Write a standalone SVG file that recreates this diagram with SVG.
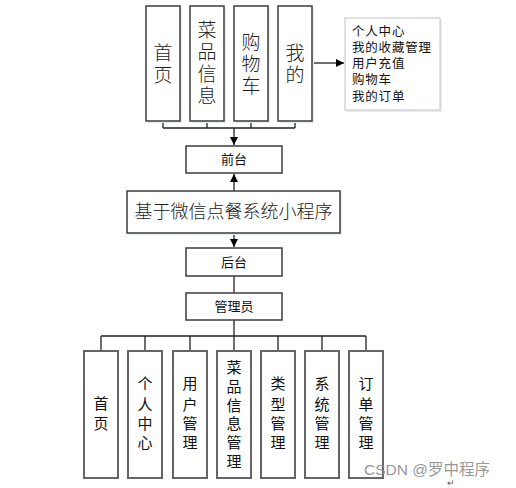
<svg xmlns="http://www.w3.org/2000/svg" width="516" height="488" viewBox="0 0 516 488">
<style>
.box{fill:#fff;stroke:#3c3c3c;stroke-width:1.5}
.bbox{fill:#fff;stroke:#666;stroke-width:2}
.sh{fill:#e6ecf4}
.ln{stroke:#222;stroke-width:1.3;fill:none}
.t{font-family:"Liberation Sans","Noto Sans CJK SC",sans-serif;fill:#111;text-anchor:middle}
.ts{font-family:"Liberation Serif","Noto Sans CJK SC",serif;fill:#222;text-anchor:middle;font-weight:300}
</style>
<defs>
<marker id="ah" viewBox="0 0 10 10" refX="10" refY="5" markerWidth="8" markerHeight="8" markerUnits="userSpaceOnUse" orient="auto"><path d="M0,0L10,5L0,10z" fill="#000"/></marker>
</defs>
<rect width="516" height="488" fill="#fff"/>
<g id="connectors">
<path class="ln" d="M163,121V128M207,121V128M251,121V128M295,121V128M163,128H295"/>
<path class="ln" d="M234,128V145" marker-end="url(#ah)"/>
<path class="ln" d="M313,63H344" marker-end="url(#ah)"/>
<path class="ln" d="M234,191V174" marker-end="url(#ah)"/>
<path class="ln" d="M234,233V247" marker-end="url(#ah)"/>
<path class="ln" d="M234,276V293"/>
<path class="ln" d="M234,320V336M101,336H366M101,336V351M145,336V351M190,336V351M234,336V351M278,336V351M322,336V351M366,336V351"/>
</g>
<g id="top1"><rect class="sh" x="148" y="8" width="34" height="115"/><rect class="box" x="146" y="6" width="34" height="115"/><text class="ts" font-size="19" x="163"><tspan x="163" y="60">首</tspan><tspan x="163" y="82">页</tspan></text></g>
<g id="top2"><rect class="sh" x="192" y="8" width="34" height="115"/><rect class="box" x="190" y="6" width="34" height="115"/><text class="ts" font-size="19" x="207"><tspan x="207" y="37">菜</tspan><tspan x="207" y="59">品</tspan><tspan x="207" y="81">信</tspan><tspan x="207" y="103">息</tspan></text></g>
<g id="top3"><rect class="sh" x="236" y="8" width="34" height="115"/><rect class="box" x="234" y="6" width="34" height="115"/><text class="ts" font-size="19"><tspan x="251" y="49">购</tspan><tspan x="251" y="71">物</tspan><tspan x="251" y="93">车</tspan></text></g>
<g id="top4"><rect class="sh" x="280" y="8" width="34" height="115"/><rect class="box" x="278" y="6" width="34" height="115"/><text class="ts" font-size="19"><tspan x="295" y="60">我</tspan><tspan x="295" y="82">的</tspan></text></g>
<g id="list"><rect class="sh" x="347" y="20" width="95" height="92"/><rect x="345" y="18" width="95" height="92" fill="#fff" stroke="#c4c4c4" stroke-width="1"/>
<text font-family="Liberation Sans,'Noto Sans CJK SC',sans-serif" font-size="12.5" letter-spacing="0.8" fill="#111"><tspan x="352" y="36">个人中心</tspan><tspan x="352" y="52">我的收藏管理</tspan><tspan x="352" y="68">用户充值</tspan><tspan x="352" y="84">购物车</tspan><tspan x="352" y="101">我的订单</tspan></text></g>
<g id="qiantai"><rect class="box" x="186" y="146" width="96" height="27"/><text class="t" font-size="13" x="234" y="164">前台</text></g>
<g id="main"><rect class="sh" x="129" y="193" width="213" height="42"/><rect class="box" x="127" y="191" width="213" height="42"/><text class="ts" font-size="18" x="233.5" y="218">基于微信点餐系统小程序</text></g>
<g id="houtai"><rect class="box" x="186" y="248" width="96" height="28"/><text class="t" font-size="13" x="234" y="267">后台</text></g>
<g id="admin"><rect class="box" x="186" y="293" width="96" height="27"/><text class="t" font-size="13" x="234" y="311">管理员</text></g>
<g id="b1"><rect class="bbox" x="84" y="351" width="34" height="127"/><text class="t" font-size="15"><tspan x="101" y="409">首</tspan><tspan x="101" y="429">页</tspan></text></g>
<g id="b2"><rect class="bbox" x="128" y="351" width="34" height="127"/><text class="t" font-size="15"><tspan x="145" y="389">个</tspan><tspan x="145" y="410">人</tspan><tspan x="145" y="429">中</tspan><tspan x="145" y="448">心</tspan></text></g>
<g id="b3"><rect class="bbox" x="173" y="351" width="34" height="127"/><text class="t" font-size="15"><tspan x="190" y="389">用</tspan><tspan x="190" y="410">户</tspan><tspan x="190" y="429">管</tspan><tspan x="190" y="448">理</tspan></text></g>
<g id="b4"><rect class="bbox" x="217" y="351" width="34" height="127"/><text class="t" font-size="15"><tspan x="234" y="373">菜</tspan><tspan x="234" y="392">品</tspan><tspan x="234" y="411">信</tspan><tspan x="234" y="429">息</tspan><tspan x="234" y="448">管</tspan><tspan x="234" y="467">理</tspan></text></g>
<g id="b5"><rect class="bbox" x="261" y="351" width="34" height="127"/><text class="t" font-size="15"><tspan x="278" y="389">类</tspan><tspan x="278" y="410">型</tspan><tspan x="278" y="429">管</tspan><tspan x="278" y="448">理</tspan></text></g>
<g id="b6"><rect class="bbox" x="305" y="351" width="34" height="127"/><text class="t" font-size="15"><tspan x="322" y="389">系</tspan><tspan x="322" y="410">统</tspan><tspan x="322" y="429">管</tspan><tspan x="322" y="448">理</tspan></text></g>
<g id="b7"><rect class="bbox" x="349" y="351" width="34" height="127"/><text class="t" font-size="15"><tspan x="366" y="389">订</tspan><tspan x="366" y="410">单</tspan><tspan x="366" y="429">管</tspan><tspan x="366" y="448">理</tspan></text></g>
<text font-family="Liberation Sans,'Noto Sans CJK SC',sans-serif" font-size="15.5" fill="#8a8a8a" fill-opacity="0.9" x="364" y="475">CSDN @罗中程序</text>
<text font-family="Liberation Sans,'Noto Sans CJK SC',sans-serif" font-size="9" fill="#555" x="447" y="486">↵</text>
</svg>
